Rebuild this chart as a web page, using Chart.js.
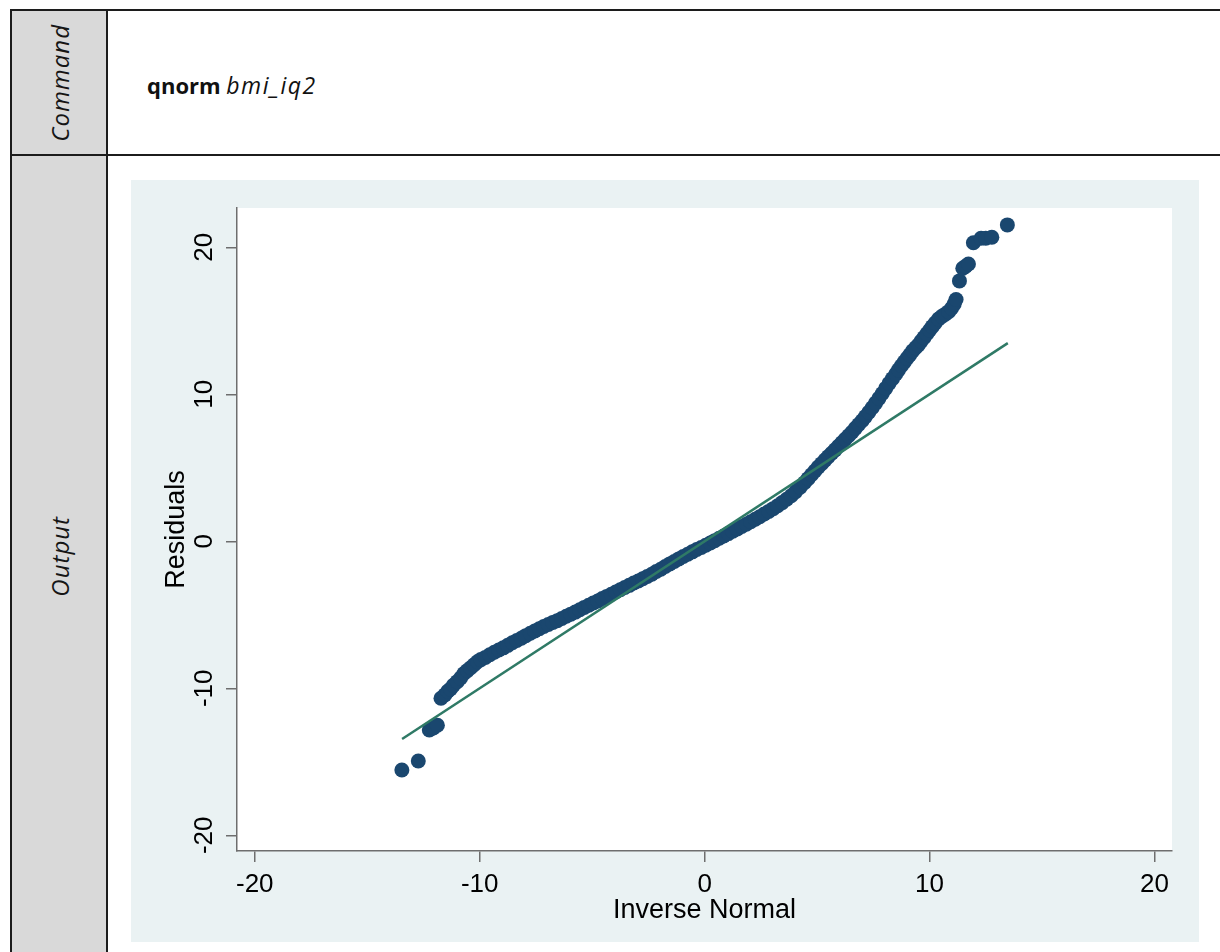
<!DOCTYPE html>
<html lang="en">
<head>
    <meta charset="UTF-8">
    <title>qnorm bmi_iq2</title>
    <style>
        body {
            margin: 0;
            width: 1220px;
            height: 952px;
            overflow: hidden;
            background: #fff;
            position: relative;
            font-family: "Open Sans", sans-serif;
        }
        .rule { position: absolute; background: #1c1c1c; }
        .side {
            position: absolute;
            left: 12px;
            width: 95px;
            background: #d9d9d9;
            display: flex;
            align-items: center;
            justify-content: center;
        }
        .vlabel {
            writing-mode: vertical-rl;
            transform: rotate(180deg);
            font-style: italic;
            font-size: 24px;
            letter-spacing: 1px;
            color: #151515;
        }
        .cmd {
            position: absolute;
            left: 147px;
            top: 70px;
            font-size: 22px;
            line-height: 30px;
            color: #111;
        }
        .cmd b { font-weight: 700; }
        .cmd i { font-style: italic; font-size: 23px; letter-spacing: 1.5px; }
        #chartBox {
            position: absolute;
            left: 131px;
            top: 180px;
            width: 1068px;
            height: 762px;
            background: #eaf2f3;
        }
    </style>
</head>
<body>
    <div class="side" style="top:11px;height:144px"><span class="vlabel">Command</span></div>
    <div class="side" style="top:156px;height:800px"><span class="vlabel">Output</span></div>

    <div class="rule" style="left:10px;top:9px;width:1220px;height:2px"></div>
    <div class="rule" style="left:10px;top:154px;width:1220px;height:2px"></div>
    <div class="rule" style="left:10px;top:9px;width:2px;height:960px"></div>
    <div class="rule" style="left:106px;top:9px;width:2px;height:960px"></div>

    <div class="cmd"><b>qnorm</b> <i>bmi_iq2</i></div>

    <div id="chartBox"><canvas id="qq" width="1068" height="762"></canvas></div>

    <script src="https://cdn.jsdelivr.net/npm/chart.js"></script>
    <script>
        // Inverse normal quantiles (x) and sorted residuals (y)
        const invNormal = [
            -13.46, -12.73, -12.24, -12.06, -11.88,
            -11.72, -11.55, -11.42, -11.30, -11.17, -11.00, -10.85, -10.70, -10.55, -10.40,
            -10.25, -10.10, -9.95, -9.75, -9.55, -9.35, -9.15, -8.95, -8.75, -8.55,
            -8.35, -8.15, -7.95, -7.75, -7.55, -7.35, -7.15, -6.95, -6.75, -6.55,
            -6.35, -6.15, -5.95, -5.75, -5.55, -5.35, -5.15, -4.95, -4.75, -4.55,
            -4.35, -4.15, -3.95, -3.75, -3.55, -3.35, -3.15, -2.95, -2.75, -2.55,
            -2.35, -2.15, -1.95, -1.75, -1.55, -1.35, -1.15, -0.95, -0.75, -0.55,
            -0.35, -0.15, 0.05, 0.25, 0.45, 0.65, 0.85, 1.05, 1.25, 1.45,
            1.65, 1.85, 2.05, 2.25, 2.45, 2.65, 2.85, 3.05, 3.25, 3.45,
            3.65, 3.85, 4.05, 4.25, 4.45, 4.60, 4.75, 4.90, 5.05, 5.20,
            5.35, 5.50, 5.65, 5.80, 5.95, 6.10, 6.25, 6.40, 6.55, 6.70,
            6.85, 7.00, 7.15, 7.30, 7.45, 7.60, 7.75, 7.90, 8.05, 8.20,
            8.35, 8.50, 8.62, 8.75, 8.88, 9.00, 9.12, 9.25, 9.38, 9.50,
            9.62, 9.75, 9.88, 10.00, 10.12, 10.25, 10.40, 10.55, 10.70, 10.85,
            10.98, 11.10, 11.18,
            11.33, 11.48, 11.60, 11.73, 11.95, 12.29, 12.50, 12.77, 13.46
        ];
        const residuals = [
            -15.56, -14.95, -12.84, -12.70, -12.52,
            -10.68, -10.45, -10.20, -10.05, -9.80, -9.55, -9.30, -9.00, -8.80, -8.60,
            -8.40, -8.20, -8.05, -7.90, -7.72, -7.55, -7.40, -7.25, -7.08, -6.90,
            -6.75, -6.60, -6.42, -6.26, -6.10, -5.95, -5.80, -5.66, -5.52, -5.40,
            -5.25, -5.10, -4.96, -4.82, -4.66, -4.50, -4.35, -4.20, -4.06, -3.90,
            -3.75, -3.60, -3.45, -3.30, -3.15, -3.00, -2.84, -2.70, -2.55, -2.40,
            -2.24, -2.06, -1.90, -1.72, -1.54, -1.38, -1.20, -1.04, -0.88, -0.72,
            -0.56, -0.42, -0.27, -0.12, 0.04, 0.20, 0.36, 0.52, 0.68, 0.84,
            1.00, 1.16, 1.33, 1.50, 1.67, 1.85, 2.03, 2.22, 2.42, 2.63,
            2.86, 3.10, 3.38, 3.68, 4.00, 4.26, 4.52, 4.78, 5.04, 5.28,
            5.52, 5.76, 5.99, 6.22, 6.46, 6.70, 6.94, 7.18, 7.42, 7.68,
            7.94, 8.20, 8.48, 8.78, 9.08, 9.40, 9.72, 10.05, 10.40, 10.74,
            11.06, 11.38, 11.66, 11.94, 12.20, 12.45, 12.68, 12.95, 13.16, 13.35,
            13.60, 13.85, 14.12, 14.35, 14.60, 14.85, 15.12, 15.30, 15.45, 15.62,
            15.85, 16.15, 16.45,
            17.71, 18.57, 18.70, 18.86, 20.31, 20.61, 20.62, 20.68, 21.52
        ];

        // Reference line end points
        const refX = [-13.45, 13.48];
        const refY = [-13.45, 13.48];

        const xTicks = [-20, -10, 0, 10, 20];
        const yTicks = [-20, -10, 0, 10, 20];

        const axisGrey = '#6e6e6e';

        // white plot region on the bluish graph region
        const plotBg = {
            id: 'plotBg',
            beforeDraw(chart) {
                const a = chart.chartArea;
                const ctx = chart.ctx;
                ctx.save();
                ctx.fillStyle = '#ffffff';
                ctx.fillRect(a.left, a.top, a.right - a.left, a.bottom - a.top);
                ctx.restore();
            }
        };

        new Chart(document.getElementById('qq'), {
            type: 'scatter',
            data: {
                datasets: [
                    {
                        type: 'line',
                        data: refX.map((x, i) => ({ x: x, y: refY[i] })),
                        borderColor: '#2f7a66',
                        borderWidth: 2.5,
                        pointRadius: 0,
                        fill: false,
                        order: 0
                    },
                    {
                        data: invNormal.map((x, i) => ({ x: x, y: residuals[i] })),
                        backgroundColor: '#1a476f',
                        borderWidth: 0,
                        pointRadius: 7.5,
                        order: 1
                    }
                ]
            },
            options: {
                responsive: false,
                devicePixelRatio: 1,
                animation: false,
                layout: { padding: { left: 0, top: 28, right: 27, bottom: 0 } },
                plugins: { legend: { display: false }, tooltip: { enabled: false } },
                scales: {
                    x: {
                        type: 'linear',
                        min: -20.79,
                        max: 20.78,
                        afterBuildTicks: s => { s.ticks = xTicks.map(v => ({ value: v })); },
                        afterFit: s => { s.height = 91; },
                        ticks: {
                            color: '#000',
                            font: { family: '"Liberation Sans", Arial, sans-serif', size: 26 },
                            padding: 7,
                            maxRotation: 0
                        },
                        grid: { drawOnChartArea: false, drawTicks: true, tickLength: 11, color: axisGrey, lineWidth: 1.5 },
                        border: { color: axisGrey, width: 1.5 },
                        title: {
                            display: true,
                            text: 'Inverse Normal',
                            color: '#000',
                            font: { family: '"Liberation Sans", Arial, sans-serif', size: 27 },
                            padding: { top: 0, bottom: 15 }
                        }
                    },
                    y: {
                        type: 'linear',
                        min: -21.07,
                        max: 22.67,
                        afterBuildTicks: s => { s.ticks = yTicks.map(v => ({ value: v })); },
                        afterFit: s => { s.width = 106; },
                        ticks: {
                            color: '#000',
                            font: { family: '"Liberation Sans", Arial, sans-serif', size: 26 },
                            padding: 2,
                            minRotation: 90,
                            maxRotation: 90,
                            crossAlign: 'center'
                        },
                        grid: { drawOnChartArea: false, drawTicks: true, tickLength: 11, color: axisGrey, lineWidth: 1.5 },
                        border: { color: axisGrey, width: 1.5 },
                        title: {
                            display: true,
                            text: 'Residuals',
                            color: '#000',
                            font: { family: '"Liberation Sans", Arial, sans-serif', size: 27 },
                            padding: { top: 29, bottom: 0 }
                        }
                    }
                }
            },
            plugins: [plotBg]
        });
    </script>
</body>
</html>
